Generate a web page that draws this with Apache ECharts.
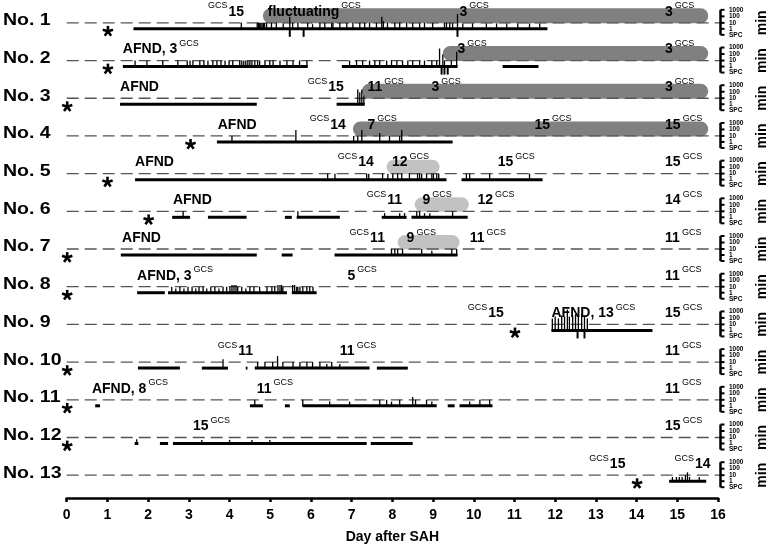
<!DOCTYPE html>
<html><head><meta charset="utf-8">
<script src="https://cdn.jsdelivr.net/npm/echarts/dist/echarts.min.js"></script>
<style>html,body{margin:0;padding:0;background:#fff}#c{width:770px;height:549px}</style>
</head><body><div id="c"></div>
<script>
const FONT = '"Liberation Sans", Arial, Helvetica, sans-serif';

// ---------- DATA ----------
const rowNames = ['No. 1','No. 2','No. 3','No. 4','No. 5','No. 6','No. 7','No. 8','No. 9','No. 10','No. 11','No. 12','No. 13'];
const scaleLabels = ['1000','100','10','1','SPC'];

// [day, row] of SAH onset asterisk
const asterisks = [[1.0,1],[1.0,2],[0.0,3],[3.03,4],[0.99,5],[2.0,6],[0.0,7],[0.0,8],[11.0,9],[0.0,10],[0.0,11],[0.0,12],[14.0,13]];

// [start, end, row] GCS state bands
const darkBands = [[4.82,15.76,1],[9.24,15.76,2],[7.25,15.76,3],[7.03,15.76,4]];
const lightBands = [[7.86,9.16,5],[8.55,9.88,6],[8.13,9.65,7]];

// [start, end, row] monitoring periods
const monitorBars = [
 [1.64,11.81,1],
 [1.38,5.92,2],[6.76,9.60,2],[10.71,11.59,2],
 [1.31,4.67,3],[6.63,7.32,3],
 [3.69,9.48,4],
 [1.68,9.33,5],[9.70,11.69,5],
 [2.59,3.03,6],[3.47,4.42,6],[5.36,5.53,6],[5.65,6.71,6],[7.74,8.35,6],[8.47,9.85,6],
 [1.33,4.67,7],[5.28,5.55,7],[6.58,9.60,7],
 [1.73,2.41,8],[2.49,5.41,8],[5.53,6.14,8],
 [11.91,14.39,9],
 [1.75,2.78,10],[3.32,3.96,10],[4.40,4.44,10],[4.62,7.44,10],[7.62,8.38,10],
 [0.70,0.82,11],[4.50,4.82,11],[5.36,5.48,11],[5.80,9.09,11],[9.36,9.53,11],[9.65,10.46,11],
 [1.67,1.76,12],[2.29,2.49,12],[2.61,7.37,12],[7.47,8.50,12],
 [14.80,15.71,13]
];

// [day, minutes] events per row
const spikes1 = [[4.29,10],[4.68,10],[4.71,10],[4.74,10],[4.77,10],[4.80,10],[4.83,10],[4.86,10],[4.91,10],[5.03,10],[5.15,10],[5.32,8],[5.48,100],[5.55,10],[5.68,10],[5.92,10],[6.04,6],[6.22,10],[6.34,10],[6.51,10],[6.54,10],[6.71,10],[6.88,10],[7.03,10],[7.20,10],[7.32,10],[7.44,10],[7.61,10],[7.74,100],[7.78,20],[7.88,10],[8.06,10],[8.18,10],[8.35,10],[8.50,10],[8.67,10],[8.79,10],[8.99,10],[9.28,10],[9.33,10],[9.41,10],[9.48,10],[9.60,300],[9.73,8],[9.97,8],[10.31,8],[10.56,8],[10.81,8],[11.08,8],[11.37,8],[11.62,8]];
const spikes2 = [[1.68,10],[1.97,10],[2.36,10],[2.73,10],[2.96,10],[3.03,10],[3.10,10],[3.27,10],[3.37,10],[3.47,10],[3.59,10],[3.69,10],[3.79,10],[3.89,10],[3.99,10],[4.08,10],[4.25,10],[4.30,10],[4.35,10],[4.40,10],[4.45,10],[4.50,10],[4.55,10],[4.62,10],[4.69,10],[4.74,10],[4.87,10],[4.99,10],[5.07,10],[5.24,10],[5.41,10],[5.56,10],[5.72,10],[5.90,10],[6.95,10],[7.12,10],[7.27,10],[7.44,10],[7.57,10],[7.69,10],[7.86,10],[7.98,10],[8.11,10],[8.25,10],[8.38,10],[8.50,10],[8.67,10],[8.79,10],[8.97,10],[9.09,10],[9.16,1000],[9.24,100],[9.28,10],[9.45,10],[9.58,300]];
const spikes3 = [[7.15,300],[7.20,100],[7.25,300],[7.30,30]];
const spikes4 = [[4.06,10],[5.63,100],[7.05,10],[7.15,10],[7.25,100],[7.69,30],[7.93,10],[8.18,10],[8.23,100]];
const spikes5 = [[6.41,10],[6.59,10],[7.37,10],[7.42,10],[7.76,10],[7.89,10],[8.01,10],[8.13,10],[8.23,10],[8.42,10],[8.62,10],[8.67,10],[8.72,10],[8.84,10],[8.97,10],[9.01,10],[9.09,10],[9.14,10],[9.82,10],[9.90,10],[10.39,10],[11.37,10]];
const spikes6 = [[2.86,10],[5.68,10],[7.81,5],[8.18,5],[8.30,5],[8.60,10],[8.67,10],[8.79,5],[8.92,5],[9.48,10]];
const spikes7 = [[7.98,10],[8.06,10],[8.13,10],[8.25,10],[8.72,10],[8.97,5],[9.46,10],[9.58,10]];
const spikes8 = [[2.58,10],[2.68,5],[2.78,10],[2.88,5],[2.98,10],[3.08,10],[3.17,5],[3.25,10],[3.35,10],[3.44,5],[3.54,10],[3.64,10],[3.74,5],[3.84,10],[3.93,10],[4.01,10],[4.06,20],[4.11,20],[4.16,20],[4.20,10],[4.30,10],[4.40,5],[4.50,10],[4.60,10],[4.74,10],[4.92,10],[5.04,10],[5.11,10],[5.19,20],[5.24,20],[5.28,20],[5.31,10],[5.55,20],[5.60,20],[5.65,10],[5.68,10],[5.73,10],[5.80,10],[5.90,10],[5.97,10],[6.05,10]];
const spikes9 = [[11.93,100],[12.00,200],[12.08,100],[12.16,300],[12.23,200],[12.30,3000],[12.35,200],[12.43,300],[12.50,500],[12.57,300],[12.65,500],[12.72,300],[12.79,100]];
const spikes10 = [[3.84,30],[4.69,10],[4.87,10],[5.06,10],[5.18,100],[5.31,10],[5.56,10],[5.73,10],[5.90,10],[6.04,10],[6.22,10],[6.39,5],[6.51,10],[6.71,5]];
const spikes11 = [[4.62,10],[5.80,10],[6.46,5],[6.95,5],[7.69,10],[7.86,10],[7.98,5],[8.18,10],[8.50,30],[8.57,10],[8.84,10],[8.97,5],[9.90,5],[10.15,10],[10.39,10]];
const spikes12 = [[1.72,5],[3.32,4],[4.00,4],[4.55,4],[4.99,4]];
const spikes13 = [[14.88,5],[14.98,5],[15.05,5],[15.12,5],[15.20,10],[15.25,30],[15.30,5],[15.54,5]];

// [day, row] SPC events
const spcEvents = [[5.48,1],[5.82,1],[9.60,1],[9.21,2],[9.28,2],[9.36,2],[12.55,9],[12.72,9]];

// labels: [day, row, text]; post = text then superscript GCS, pre = superscript GCS then text
const labelsPost = [
 [4.94,1,'fluctuating'],[9.65,1,'3'],[14.70,1,'3'],
 [1.38,2,'AFND, 3'],[9.60,2,'3'],[14.70,2,'3'],
 [7.39,3,'11'],[8.96,3,'3'],[14.70,3,'3'],
 [7.39,4,'7'],[11.49,4,'15'],[14.70,4,'15'],
 [7.99,5,'12'],[10.59,5,'15'],[14.70,5,'15'],
 [8.74,6,'9'],[10.09,6,'12'],[14.70,6,'14'],
 [8.35,7,'9'],[9.90,7,'11'],[14.70,7,'11'],
 [1.73,8,'AFND, 3'],[6.90,8,'5'],[14.70,8,'11'],
 [11.91,9,'AFND, 13'],[14.70,9,'15'],
 [6.71,10,'11'],[14.70,10,'11'],
 [0.62,11,'AFND, 8'],[4.67,11,'11'],[14.70,11,'11'],
 [3.10,12,'15'],[14.70,12,'15']
];
const labelsPre = [[3.47,1,'15'],[5.92,3,'15'],[5.97,4,'14'],[6.66,5,'14'],[7.37,6,'11'],[6.95,7,'11'],[9.85,9,'15'],[3.71,10,'11'],[12.84,13,'15'],[14.93,13,'14']];
const labelsPlain = [[1.31,3,'AFND'],[3.71,4,'AFND'],[1.68,5,'AFND'],[2.61,6,'AFND'],[1.36,7,'AFND']];

// ---------- BUILD ----------
const rows = rowNames.map((n,i)=>i+1);
const spikeRows = [spikes1,spikes2,spikes3,spikes4,spikes5,spikes6,spikes7,spikes8,spikes9,spikes10,spikes11,spikes12,spikes13];
const spikeData = [];
spikeRows.forEach((arr,i)=>arr.forEach(s=>spikeData.push([s[0], s[1], i+1])));

const mctx = document.createElement('canvas').getContext('2d');
function tw(t, f){ mctx.font = f; return mctx.measureText(t).width; }
const F_MAIN = 'bold 14px ' + FONT;
const F_SUP = '9px ' + FONT;
function txt(x, y, t, f, extra){
  return Object.assign({type:'text', x:x, y:y, style:{text:t, font:f, fill:'#000', align:'left', verticalAlign:'middle', textAlign:'left', textVerticalAlign:'middle'}}, extra||{});
}

const chart = echarts.init(document.getElementById('c'), null, {renderer:'canvas'});
const base = {type:'custom', coordinateSystem:'cartesian2d', silent:true, animation:false};

chart.setOption({
  backgroundColor:'#fff',
  animation:false,
  grid:{left:66.7, right:52, top:4, bottom:47},
  xAxis:{type:'value', min:0, max:16, interval:1,
    axisLine:{lineStyle:{color:'#000', width:2.5}},
    axisTick:{length:4, lineStyle:{color:'#000', width:2.5}},
    splitLine:{show:false},
    axisLabel:{color:'#000', fontWeight:'bold', fontSize:14, fontFamily:FONT, margin:10},
    name:'Day after SAH', nameLocation:'middle', nameGap:32,
    nameTextStyle:{color:'#000', fontWeight:'bold', fontSize:14, fontFamily:FONT}},
  yAxis:{type:'value', min:0.5, max:13.605, inverse:true, show:false},
  series:[
    Object.assign({}, base, {name:'darkBands', z:1, data:darkBands, encode:{x:[0,1], y:2},
      renderItem:(p,api)=>{const a=api.coord([api.value(0),api.value(2)]), b=api.coord([api.value(1),api.value(2)]);
        return {type:'rect', shape:{x:a[0], y:a[1]-14.5, width:b[0]-a[0], height:15, r:7.5}, style:{fill:'#808080'}};}}),
    Object.assign({}, base, {name:'lightBands', z:1, data:lightBands, encode:{x:[0,1], y:2},
      renderItem:(p,api)=>{const a=api.coord([api.value(0),api.value(2)]), b=api.coord([api.value(1),api.value(2)]);
        return {type:'rect', shape:{x:a[0], y:a[1]-14, width:b[0]-a[0], height:14.5, r:7.25}, style:{fill:'#c2c2c2'}};}}),
    Object.assign({}, base, {name:'dashed', z:2, data:rows.map(r=>[0,16,r]), encode:{x:[0,1], y:2},
      renderItem:(p,api)=>{const a=api.coord([api.value(0),api.value(2)]), b=api.coord([api.value(1),api.value(2)]);
        return {type:'line', shape:{x1:a[0], y1:a[1], x2:b[0]+3, y2:a[1]}, style:{stroke:'#555', lineWidth:1.3, lineDash:[12,6]}};}}),
    Object.assign({}, base, {name:'monitor', z:3, data:monitorBars, encode:{x:[0,1], y:2},
      renderItem:(p,api)=>{const a=api.coord([api.value(0),api.value(2)]), b=api.coord([api.value(1),api.value(2)]);
        return {type:'line', shape:{x1:a[0], y1:a[1]+6, x2:b[0], y2:a[1]+6}, style:{stroke:'#000', lineWidth:3}};}}),
    Object.assign({}, base, {name:'spikes', z:4, data:spikeData, encode:{x:0, y:2},
      renderItem:(p,api)=>{const a=api.coord([api.value(0),api.value(2)]); const h=6*Math.log10(api.value(1));
        return {type:'line', shape:{x1:a[0], y1:a[1]+7, x2:a[0], y2:a[1]+6-h}, style:{stroke:'#000', lineWidth:1.3}};}}),
    Object.assign({}, base, {name:'spc', z:4, data:spcEvents, encode:{x:0, y:1},
      renderItem:(p,api)=>{const a=api.coord([api.value(0),api.value(1)]);
        return {type:'line', shape:{x1:a[0], y1:a[1]+6, x2:a[0], y2:a[1]+14}, style:{stroke:'#000', lineWidth:2}};}}),
    Object.assign({}, base, {name:'asterisks', z:5, data:asterisks, encode:{x:0, y:1},
      renderItem:(p,api)=>{const a=api.coord([api.value(0),api.value(1)]); const cx=a[0]+0.5, cy=a[1]+8.5; const ch=[];
        for(let k=0;k<5;k++){const ang=-Math.PI/2+k*2*Math.PI/5; ch.push({type:'line', shape:{x1:cx, y1:cy, x2:cx+5.4*Math.cos(ang), y2:cy+5.4*Math.sin(ang)}, style:{stroke:'#000', lineWidth:2.6}});}
        return {type:'group', children:ch};}}),
    Object.assign({}, base, {name:'labelsPost', z:6, data:labelsPost.map(l=>[l[0],l[1]]), encode:{x:0, y:1},
      renderItem:(p,api)=>{const l=labelsPost[p.dataIndex]; const a=api.coord([l[0],l[1]]); const w=tw(l[2],F_MAIN);
        return {type:'group', children:[txt(a[0],a[1]-11,l[2],F_MAIN), txt(a[0]+w+2,a[1]-17,'GCS',F_SUP)]};}}),
    Object.assign({}, base, {name:'labelsPre', z:6, data:labelsPre.map(l=>[l[0],l[1]]), encode:{x:0, y:1},
      renderItem:(p,api)=>{const l=labelsPre[p.dataIndex]; const a=api.coord([l[0],l[1]]); const w=tw('GCS',F_SUP);
        return {type:'group', children:[txt(a[0],a[1]-17,'GCS',F_SUP), txt(a[0]+w+1,a[1]-11,l[2],F_MAIN)]};}}),
    Object.assign({}, base, {name:'labelsPlain', z:6, data:labelsPlain.map(l=>[l[0],l[1]]), encode:{x:0, y:1},
      renderItem:(p,api)=>{const l=labelsPlain[p.dataIndex]; const a=api.coord([l[0],l[1]]);
        return txt(a[0],a[1]-11,l[2],F_MAIN);}}),
    Object.assign({}, base, {name:'rowNames', z:6, data:rows.map(r=>[0,r]), encode:{x:0, y:1},
      renderItem:(p,api)=>{const a=api.coord([0,api.value(1)]);
        return txt(3,a[1]-2,rowNames[p.dataIndex],'bold 16px '+FONT,{scaleX:1.22});}}),
    Object.assign({}, base, {name:'rowScales', z:6, data:rows.map(r=>[16,r]), encode:{x:0, y:1},
      renderItem:(p,api)=>{const a=api.coord([16,api.value(1)]); const x=a[0]+2.5, y=a[1]; const ch=[];
        const lv=[-13,-6.5,0,6,12];
        ch.push({type:'line', shape:{x1:x, y1:y-13, x2:x, y2:y+12}, style:{stroke:'#000', lineWidth:2.5}});
        lv.forEach((o,k)=>{ch.push({type:'line', shape:{x1:x, y1:y+o, x2:x+4, y2:y+o}, style:{stroke:'#000', lineWidth:2}});
          ch.push(txt(x+8.5, y+o, scaleLabels[k], 'bold 6.5px '+FONT));});
        ch.push(txt(x+42, y, 'min', 'bold 14px '+FONT, {rotation:Math.PI/2, style:{text:'min', font:'bold 14px '+FONT, fill:'#000', align:'center', verticalAlign:'middle', textAlign:'center', textVerticalAlign:'middle'}}));
        return {type:'group', children:ch};}})
  ]
});
</script></body></html>
